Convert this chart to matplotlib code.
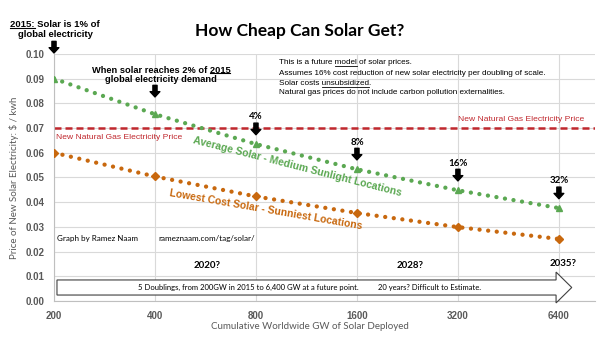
import numpy as np
import matplotlib
matplotlib.use('Agg')
import matplotlib.pyplot as plt
from matplotlib.patches import Polygon
from matplotlib.lines import Line2D

# data
gw = [200, 400, 800, 1600, 3200, 6400]
avg_solar = [0.090, 0.0756, 0.0635, 0.0533, 0.0448, 0.0376]
low_solar = [0.060, 0.0504, 0.0423, 0.0356, 0.0299, 0.0251]
gas_price = 0.07
share_labels = ['4%', '8%', '16%', '32%']
y_ticks = [0.00, 0.01, 0.02, 0.03, 0.04, 0.05, 0.06, 0.07, 0.08, 0.09, 0.10]

GREEN = '#5BA852'
ORANGE = '#C8680E'
RED = '#C0272D'
GREY = '#595959'
CAL = 'Lato'
ARI = 'Liberation Sans'

fig = plt.figure(figsize=(6, 3.42), dpi=100)
ax = fig.add_axes([0.09, 0.12, 0.9017, 0.7222])

ax.set_xscale('log', base=2)
ax.set_xlim(200, 8200)
ax.set_ylim(0, 0.10)
ax.set_xticks(gw)
ax.set_xticklabels([str(g) for g in gw])
ax.set_yticks(y_ticks)
ax.set_yticklabels(['%.2f' % v for v in y_ticks])
ax.minorticks_off()
ax.tick_params(length=0, pad=7, colors=GREY)
for lab in ax.get_xticklabels() + ax.get_yticklabels():
    lab.set_fontfamily(ARI)
    lab.set_fontweight('bold')
    lab.set_fontsize(7)
ax.grid(True, color='#D9D9D9', lw=0.8)
ax.set_axisbelow(True)
for s in ['top', 'right']:
    ax.spines[s].set_visible(False)
for s in ['left', 'bottom']:
    ax.spines[s].set_color('#BFBFBF')

ax.text(0.473, -0.085, 'Cumulative Worldwide GW of Solar Deployed', transform=ax.transAxes,
        ha='center', va='top', fontsize=7, color=GREY, family=CAL)
ax.text(-0.074, 0.5, 'Price of New Solar Electricity: $ / kwh', transform=ax.transAxes,
        ha='center', va='center', rotation=90, fontsize=7, color=GREY, family=CAL)

# series
ax.axhline(gas_price, color=RED, lw=1.8, linestyle=(0, (2.8, 1.6)))
ax.plot(gw, avg_solar, color=GREEN, lw=3.1, linestyle=(0, (0.01, 2.0)),
        dash_capstyle='round', marker='^', ms=5, zorder=3)
ax.plot(gw, low_solar, color=ORANGE, lw=3.1, linestyle=(0, (0.01, 2.0)),
        dash_capstyle='round', marker='D', ms=4.2, zorder=3)

fig.text(0.5, 0.909, 'How Cheap Can Solar Get?', ha='center', va='center',
         fontsize=12.5, fontweight='bold', family=CAL)

ytr = ax.get_yaxis_transform()
ax.text(0.98, 0.0733, 'New Natural Gas Electricity Price', transform=ytr, ha='right',
        va='center', fontsize=6.1, color=RED, family=ARI)
ax.text(0.003, 0.0660, 'New Natural Gas Electricity Price', transform=ytr, ha='left',
        va='center', fontsize=6.1, color=RED, family=ARI)

notes = ['This is a future model of solar prices.',
         'Assumes 16% cost reduction of new solar electricity per doubling of scale.',
         'Solar costs unsubsidized.',
         'Natural gas prices do not include carbon pollution externalities.']
note_y = [0.9636, 0.919, 0.879, 0.842]
note_txt = []
for s, yy in zip(notes, note_y):
    note_txt.append(ax.text(0.416, yy, s, transform=ax.transAxes, ha='left', va='center',
                            fontsize=5.9, family=ARI))

t2015 = ax.text(0.002, 1.121, '2015: Solar is 1% of', transform=ax.transAxes, ha='center',
                va='center', fontsize=6.8, fontweight='bold', family=ARI)
ax.text(0.002, 1.077, 'global electricity', transform=ax.transAxes, ha='center',
        va='center', fontsize=6.8, fontweight='bold', family=ARI)
twhen = ax.text(0.198, 0.935, 'When solar reaches 2% of 2015', transform=ax.transAxes,
                ha='center', va='center', fontsize=6.7, fontweight='bold', family=ARI)
ax.text(0.198, 0.895, 'global electricity demand', transform=ax.transAxes,
        ha='center', va='center', fontsize=6.7, fontweight='bold', family=ARI)

ax.text(0.449, 0.5425, 'Average Solar - Medium Sunlight Locations', transform=ax.transAxes,
        ha='center', va='center', rotation=-14.3, rotation_mode='anchor',
        fontsize=7.5, fontweight='bold', color=GREEN, family=ARI)
ax.text(0.392, 0.368, 'Lowest Cost Solar - Sunniest Locations', transform=ax.transAxes,
        ha='center', va='center', rotation=-9.8, rotation_mode='anchor',
        fontsize=7.5, fontweight='bold', color=ORANGE, family=ARI)

ax.text(0.0055, 0.251, 'Graph by Ramez Naam', transform=ax.transAxes, ha='left',
        va='center', fontsize=5.8, family=CAL)
ax.text(0.192, 0.251, 'rameznaam.com/tag/solar/', transform=ax.transAxes, ha='left',
        va='center', fontsize=5.8, family=CAL)

ax.text(0.283, 0.142, '2020?', transform=ax.transAxes, ha='center', va='center',
        fontsize=7, fontweight='bold', family=CAL)
ax.text(0.658, 0.142, '2028?', transform=ax.transAxes, ha='center', va='center',
        fontsize=7, fontweight='bold', family=CAL)
ax.text(0.941, 0.150, '2035?', transform=ax.transAxes, ha='center', va='center',
        fontsize=7, fontweight='bold', family=CAL)

# big outlined arrow
arr = Polygon([[0.0055, 0.024], [0.928, 0.024], [0.928, -0.008], [0.957, 0.0545],
               [0.928, 0.117], [0.928, 0.085], [0.0055, 0.085]], closed=True,
              transform=ax.transAxes, fc='white', ec='#404040', lw=0.8, clip_on=False,
              zorder=4)
ax.add_patch(arr)
ax.text(0.155, 0.0545, '5 Doublings, from 200GW in 2015 to 6,400 GW at a future point.',
        transform=ax.transAxes, ha='left', va='center', fontsize=5.5, family=CAL, zorder=5)
ax.text(0.599, 0.0545, '20 years? Difficult to Estimate.',
        transform=ax.transAxes, ha='left', va='center', fontsize=5.5, family=CAL, zorder=5)

# small black arrows
aprops = dict(arrowstyle='simple,head_length=0.38,head_width=0.7,tail_width=0.3',
              fc='k', ec='k', shrinkA=0, shrinkB=0)


def down_arrow(x, tip):
    ax.annotate('', xy=(x, tip), xytext=(x, tip + 0.0047), arrowprops=aprops,
                annotation_clip=False, zorder=6)


down_arrow(gw[0], 0.1004)
down_arrow(gw[1], 0.0826)
for x, v, lab in zip(gw[2:], avg_solar[2:], share_labels):
    tip = v + 0.0038
    down_arrow(x, tip)
    ax.text(x, tip + 0.0072, lab, ha='center', va='center', fontsize=7,
            fontweight='bold', family=CAL)


# underlines
fig.canvas.draw()
rend = fig.canvas.get_renderer()


def width(s, fp):
    tmp = fig.text(0, 0, s, fontproperties=fp)
    w = tmp.get_window_extent(rend).width
    tmp.remove()
    return w


def underline(t, prefix, word):
    fp = t.get_fontproperties()
    bb = t.get_window_extent(rend)
    full = width(prefix + word, fp)
    x1 = bb.x0 + full
    x0 = x1 - width(word, fp)
    y = bb.y0 + 0.12 * bb.height
    inv = fig.transFigure.inverted()
    (fx0, fy), (fx1, _) = inv.transform([(x0, y), (x1, y)])
    fig.add_artist(Line2D([fx0, fx1], [fy, fy], transform=fig.transFigure,
                          color='k', lw=0.6 if fp.get_weight() != 'bold' else 0.8))


underline(t2015, '', '2015:')
underline(twhen, 'When solar reaches 2% of ', '2015')
underline(note_txt[0], 'This is a future ', 'model')
underline(note_txt[2], 'Solar costs ', 'unsubsidized')

fig.savefig('out.png', dpi=100)
